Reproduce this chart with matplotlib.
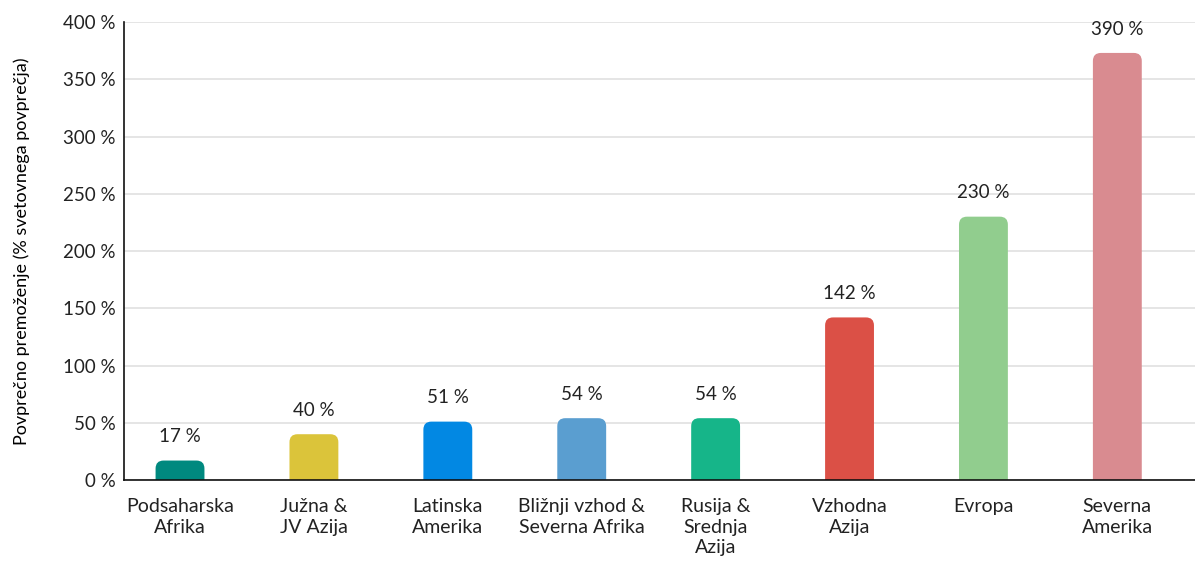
import matplotlib.pyplot as plt
from matplotlib.patches import FancyBboxPatch

plt.rcParams.update({
    "font.family": ["Lato", "DejaVu Sans"],
    "font.size": 13,
    "text.color": "#222222",
    "xtick.color": "#222222",
    "ytick.color": "#222222",
})

regions = ["Podsaharska\nAfrika", "Južna &\nJV Azija", "Latinska\nAmerika",
           "Bližnji vzhod &\nSeverna Afrika", "Rusija &\nSrednja\nAzija",
           "Vzhodna\nAzija", "Evropa", "Severna\nAmerika"]
bar_heights = [17, 40, 51, 54, 54, 142, 230, 373]
bar_labels = ["17 %", "40 %", "51 %", "54 %", "54 %", "142 %", "230 %", "390 %"]
colors = ["#00897F", "#DBC43A", "#0288E3", "#5A9ED0", "#16B589",
          "#DB5046", "#91CD8E", "#D98B90"]
yticks = [0, 50, 100, 150, 200, 250, 300, 350, 400]

fig = plt.figure(figsize=(11.95, 5.63), dpi=100)
ax = fig.add_axes([0.1038, 0.1474, 0.8962, 0.8135])

width = 0.365
ax.set_xlim(-0.418, 7.58)
ax.set_ylim(0, 400)

# pixels per data unit, used to keep the rounded corners circular
bbox = ax.get_window_extent()
px_x = bbox.width / (7.58 + 0.418)
px_y = bbox.height / 400
aspect = px_x / px_y
radius = 8 / px_x

bars = ax.bar(range(len(regions)), bar_heights, width=width, color=colors)
for b, c in zip(bars, colors):
    x0, h = b.get_x(), b.get_height()
    b.remove()
    p = FancyBboxPatch((x0 + radius, -20), width - 2 * radius, h + 20 - radius * aspect,
                       boxstyle=f"round,pad={radius},rounding_size={radius}",
                       mutation_aspect=aspect, facecolor=c, edgecolor="none",
                       zorder=3)
    ax.add_patch(p)

for i, (h, lab) in enumerate(zip(bar_heights, bar_labels)):
    ax.annotate(lab, (i, h), xytext=(0, 11), textcoords="offset points",
                ha="center", va="bottom", fontsize=13.5)

ax.set_yticks(yticks)
ax.set_yticklabels([f"{v} %" for v in yticks])
ax.set_xticks(range(len(regions)))
ax.set_xticklabels(regions, linespacing=1.25)
ax.tick_params(axis="y", length=0, labelsize=13.5, pad=6)
ax.tick_params(axis="x", length=0, labelsize=14, pad=13)

ax.grid(axis="y", color="#E0E0E0", lw=1.2, zorder=0)
ax.set_axisbelow(True)
for s in ["top", "right"]:
    ax.spines[s].set_visible(False)
for s in ["left", "bottom"]:
    ax.spines[s].set_color("#111111")
    ax.spines[s].set_linewidth(1.2)
    ax.spines[s].set_zorder(4)

ax.set_ylabel("Povprečno premoženje (% svetovnega povprečja)", fontsize=13, labelpad=24)

fig.savefig("out.png", dpi=100)
